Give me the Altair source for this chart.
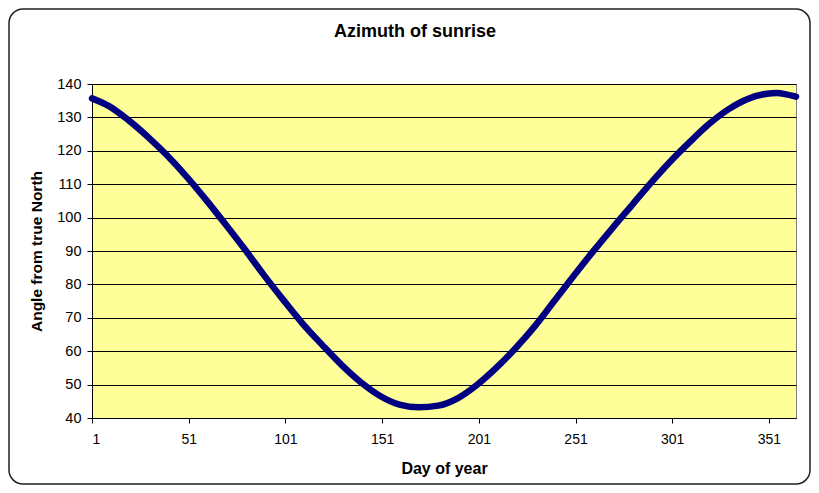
import altair as alt
import pandas as pd

title_text = "Azimuth of sunrise"
x_title = "Day of year"
y_title = "Angle from true North"

days = [1, 10, 20, 30, 40, 50, 60, 70, 80, 90, 100, 110, 120, 130, 140, 150,
        160, 170, 180, 190, 200, 210, 220, 230, 240, 250, 260, 270, 280, 290,
        300, 310, 320, 330, 340, 350, 355, 360, 365]
angles = [135.7, 133.3, 129.1, 124.1, 118.5, 112.2, 105.3, 98.0, 90.5, 82.7,
          75.3, 68.2, 61.9, 55.9, 50.7, 46.6, 44.0, 43.2, 43.7, 45.9, 49.9,
          55.0, 60.9, 67.5, 75.0, 82.5, 89.8, 96.8, 103.6, 110.4, 116.8,
          122.6, 128.0, 132.4, 135.5, 137.1, 137.3, 136.9, 136.2]

x_ticks = [1, 51, 101, 151, 201, 251, 301, 351]
y_ticks = [40, 50, 60, 70, 80, 90, 100, 110, 120, 130, 140]

W, H = 704, 334
FONT = "Liberation Sans"

df = pd.DataFrame({"day": days, "angle": angles})

line = alt.Chart(df).mark_line(
    color="#000080", strokeWidth=6.5, interpolate="monotone", strokeCap="round"
).encode(
    x=alt.X("day:Q",
            scale=alt.Scale(domain=[1, 365], nice=False, zero=False),
            axis=alt.Axis(values=x_ticks, title=x_title, grid=False,
                          tickSize=5, labelPadding=9, labelFontSize=14,
                          titleFontSize=16, titleFontWeight="bold",
                          titleY=50, titleBaseline="middle")),
    y=alt.Y("angle:Q",
            scale=alt.Scale(domain=[40, 140], nice=False, zero=False),
            axis=alt.Axis(values=y_ticks, title=y_title, grid=True,
                          gridColor="black", gridWidth=1, gridOpacity=1,
                          tickSize=5, labelPadding=6, labelFontSize=14.5,
                          titleFontSize=15.5, titleFontWeight="bold",
                          titleX=-56, titleY=H / 2, titleBaseline="middle")),
)

frame = alt.Chart(pd.DataFrame({"k": [0]})).mark_rect(
    fillOpacity=0, stroke="#222222", strokeWidth=1.5, cornerRadius=14
).encode(
    x=alt.value(-83), x2=alt.value(718), y=alt.value(-75), y2=alt.value(400)
)

title = alt.Chart(pd.DataFrame({"t": [title_text]})).mark_text(
    font=FONT, fontSize=18, fontWeight="bold", color="black",
    baseline="middle", align="center"
).encode(text="t:N", x=alt.value(323), y=alt.value(-52))

chart = alt.layer(line, frame, title).properties(
    width=W, height=H, autosize="none",
    padding={"left": 84, "top": 76, "right": 15, "bottom": 67},
).configure(font=FONT).configure_view(
    fill="#FFFF99", stroke="#808080", strokeWidth=1
).configure_axis(
    domainColor="black", tickColor="black", labelColor="black",
    titleColor="black", labelFont=FONT, titleFont=FONT
)

chart.save("out.html", embed_options={"renderer": "svg", "actions": False})
